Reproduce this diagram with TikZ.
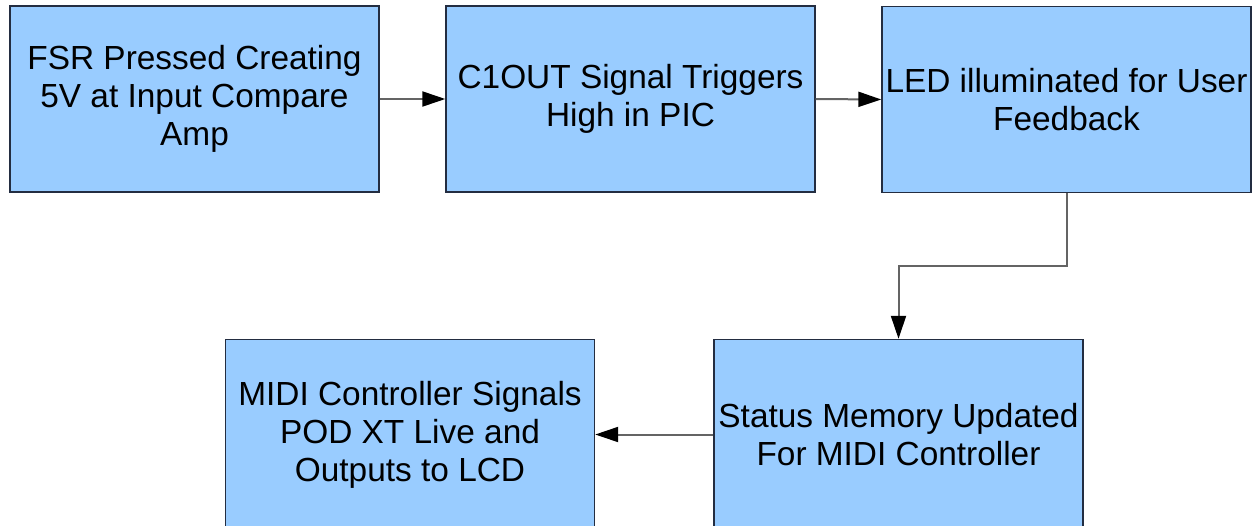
\documentclass[tikz,border=0pt]{standalone}
\usepackage{fontspec}
\setmainfont{Liberation Sans}
\usetikzlibrary{arrows.meta}

\tikzset{
  block/.style={draw={rgb,255:red,35;green,45;blue,65},line width=0.7pt,
    fill={rgb,255:red,153;green,204;blue,255},
    minimum width=184.5pt,minimum height=93pt,inner sep=1pt,align=center,
    font=\fontsize{16.7}{19}\selectfont},
  lowblock/.style={block,minimum height=95pt},
  flow/.style={draw={rgb,255:red,100;green,100;blue,100},line width=1pt,
    -{Triangle[length=11.5pt,width=7.5pt,fill=black,color=black]}}
}

\begin{document}
\begin{tikzpicture}[x=0.5pt,y=-0.5pt]
  \useasboundingbox (0,0) rectangle (1257,525);

% top row
  \node[block] (fsr)  at (194.5,99)  {FSR Pressed Creating\\5V at Input Compare\\Amp};
  \node[block] (c1)   at (630.5,99)  {C1OUT Signal Triggers\\High in PIC};
  \node[block] (led)  at (1066.5,99.5) {LED illuminated for User\\Feedback};

% bottom row (runs off the lower edge)
  \node[lowblock] (stat) at (898.5,434.5) {Status Memory Updated\\For MIDI Controller};
  \node[lowblock] (midi) at (410,434.5)   {MIDI Controller Signals\\POD XT Live and\\Outputs to LCD};

% connectors
  \coordinate (bend) at (980,266);
  \draw[flow] (fsr.east) -- (c1.west);
  \draw[flow] (c1.east) -- (led.west);
  \draw[flow] (led.south) |- (bend) -| (stat.north);
  \draw[flow] (stat.west) -- (midi.east);

\end{tikzpicture}
\end{document}
